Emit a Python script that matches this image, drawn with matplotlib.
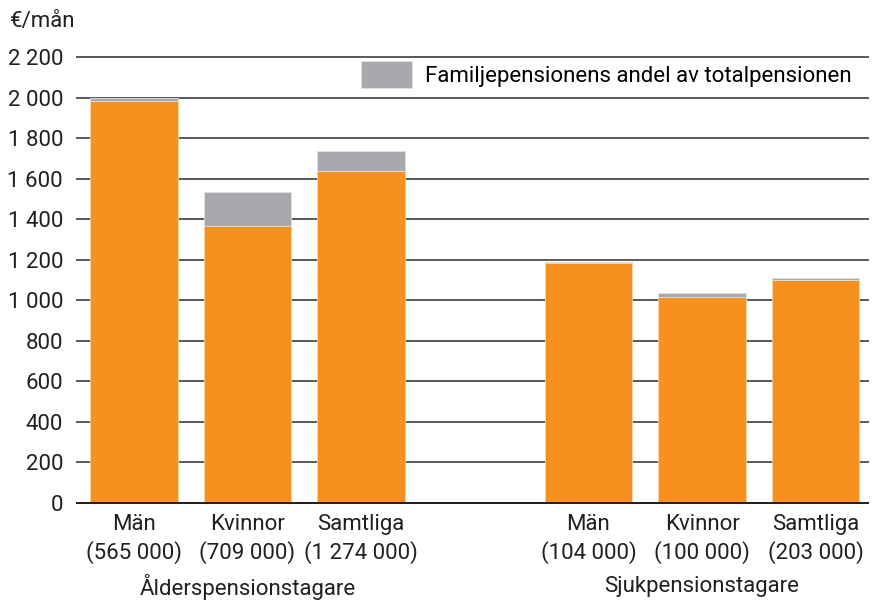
import numpy as np
import matplotlib.pyplot as plt

plt.rcParams['font.family'] = ['Roboto', 'DejaVu Sans']

# data (euro per month)
kategorier = ["Män\n(565 000)", "Kvinnor\n(709 000)", "Samtliga\n(1 274 000)",
              "Män\n(104 000)", "Kvinnor\n(100 000)", "Samtliga\n(203 000)"]
grupper = ["Ålderspensionstagare", "Sjukpensionstagare"]
egen_pension = [1983, 1364, 1640, 1184, 1017, 1100]
totalpension = [1998, 1532, 1738, 1187, 1037, 1112]
familjepension = [t - e for t, e in zip(totalpension, egen_pension)]

orange = "#F7901E"
gra = "#A7A9AC"
text_farg = "#231F20"
fs = 16

x = np.array([0, 1, 2, 4, 5, 6])
bredd = 0.77

fig = plt.figure(figsize=(8.77, 6.03), dpi=100)
ax = fig.add_axes([77 / 877, 1 - 503 / 603, (868 - 77) / 877, (503 - 57) / 603])

ax.bar(x, egen_pension, bredd, color=orange, edgecolor="#FBD3A8", linewidth=0.6, zorder=3)
ax.bar(x, familjepension, bredd, bottom=egen_pension, color=gra, edgecolor="#E0E0E0",
       linewidth=0.6, zorder=3, label="Familjepensionens andel av totalpensionen")

ax.set_ylim(0, 2200)
ax.set_xlim(-0.5, 6.46)
ax.set_yticks(np.arange(0, 2201, 200))
ax.set_yticklabels([f"{v:,}".replace(",", " ") for v in range(0, 2201, 200)], fontsize=fs)
ax.tick_params(axis="y", length=0, pad=10, colors=text_farg)
ax.yaxis.grid(True, color="#58595B", linewidth=1.4, zorder=0)
for gl in ax.get_ygridlines():
    gl.set_clip_on(False)

ax.set_xticks(x)
ax.set_xticklabels(kategorier, fontsize=fs, linespacing=1.35)
ax.tick_params(axis="x", length=0, pad=8, colors=text_farg)

for s in ["top", "right", "left"]:
    ax.spines[s].set_visible(False)
ax.spines["bottom"].set_color(text_farg)
ax.spines["bottom"].set_linewidth(1.4)
ax.spines["bottom"].set_zorder(4)

# group labels under the tick labels
ax.text(1, -0.188, grupper[0], transform=ax.get_xaxis_transform(), ha="center", va="center",
        fontsize=fs, color=text_farg)
ax.text(5, -0.188, grupper[1], transform=ax.get_xaxis_transform(), ha="center", va="center",
        fontsize=fs, color=text_farg)

fig.text(10 / 877, 1 - 22 / 603, "€/mån", fontsize=fs, ha="left", va="center", color=text_farg)

leg = ax.legend(loc="upper right", bbox_to_anchor=(1.005, 1.035), frameon=False, fontsize=fs,
                handlelength=2.3, handleheight=1.45, handletextpad=0.6)

fig.savefig("out.png", dpi=100)
